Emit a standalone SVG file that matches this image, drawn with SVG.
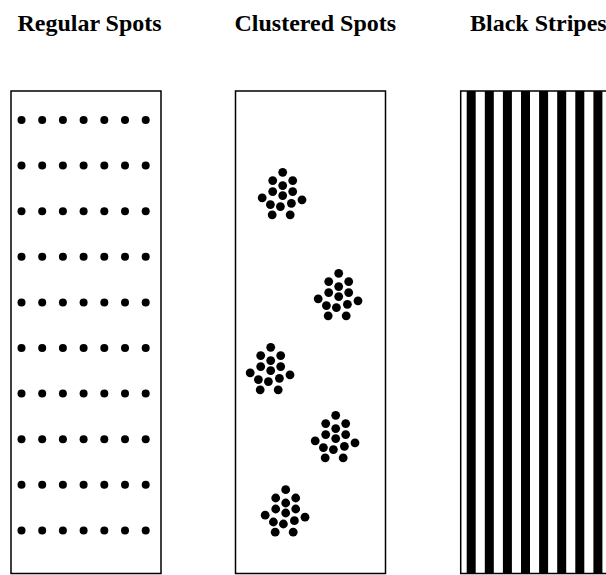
<svg xmlns="http://www.w3.org/2000/svg" xmlns:xlink="http://www.w3.org/1999/xlink" width="606" height="575" viewBox="0 0 606 575">
<style>
.title{font-family:"Liberation Serif","Times New Roman",serif;font-weight:bold;font-size:24px;fill:#000}
.box{fill:#fff;stroke:#000;stroke-width:1.5}
.dot{fill:#000}
.stripe{fill:#000}
</style>
<defs>
<g id="row">
<circle class="dot" cx="21.5" cy="0" r="4"/>
<circle class="dot" cx="42.2" cy="0" r="4"/>
<circle class="dot" cx="62.9" cy="0" r="4"/>
<circle class="dot" cx="83.6" cy="0" r="4"/>
<circle class="dot" cx="104.3" cy="0" r="4"/>
<circle class="dot" cx="125" cy="0" r="4"/>
<circle class="dot" cx="145.7" cy="0" r="4"/>
</g>
<g id="cluster">
<circle class="dot" cx="0" cy="0" r="4.4"/>
<circle class="dot" cx="-10" cy="8.3" r="4.4"/>
<circle class="dot" cx="10" cy="8.3" r="4.4"/>
<circle class="dot" cx="0" cy="13.3" r="4.4"/>
<circle class="dot" cx="-10" cy="19.3" r="4.4"/>
<circle class="dot" cx="10" cy="19.3" r="4.4"/>
<circle class="dot" cx="0" cy="23.3" r="4.4"/>
<circle class="dot" cx="-20.5" cy="25.5" r="4.4"/>
<circle class="dot" cx="19.3" cy="27.5" r="4.4"/>
<circle class="dot" cx="-12.3" cy="32.3" r="4.4"/>
<circle class="dot" cx="-2.3" cy="34.3" r="4.4"/>
<circle class="dot" cx="8.7" cy="31" r="4.4"/>
<circle class="dot" cx="-10.5" cy="42.5" r="4.4"/>
<circle class="dot" cx="7.5" cy="42.5" r="4.4"/>
</g>
</defs>

<g id="regular-spots">
<text class="title" x="17.4" y="31">Regular Spots</text>
<rect class="box" x="11" y="91" width="150" height="482.5"/>
<use xlink:href="#row" y="120"/>
<use xlink:href="#row" y="165.6"/>
<use xlink:href="#row" y="211.2"/>
<use xlink:href="#row" y="256.8"/>
<use xlink:href="#row" y="302.4"/>
<use xlink:href="#row" y="348"/>
<use xlink:href="#row" y="393.6"/>
<use xlink:href="#row" y="439.2"/>
<use xlink:href="#row" y="484.8"/>
<use xlink:href="#row" y="530.4"/>
</g>

<g id="clustered-spots">
<text class="title" x="234.5" y="31">Clustered Spots</text>
<rect class="box" x="235.5" y="91" width="150" height="482.5"/>
<use xlink:href="#cluster" x="282.7" y="172.3"/>
<use xlink:href="#cluster" x="338.7" y="273.3"/>
<use xlink:href="#cluster" x="270.7" y="347.3"/>
<use xlink:href="#cluster" x="335.7" y="415.3"/>
<use xlink:href="#cluster" x="285.7" y="489.7"/>
</g>

<g id="black-stripes">
<text class="title" x="470" y="31">Black Stripes</text>
<rect class="box" x="460.7" y="91" width="150" height="482.5"/>
<rect class="stripe" x="466.7" y="91" width="9" height="482.5"/>
<rect class="stripe" x="484.8" y="91" width="9" height="482.5"/>
<rect class="stripe" x="502.9" y="91" width="9" height="482.5"/>
<rect class="stripe" x="521" y="91" width="9" height="482.5"/>
<rect class="stripe" x="539.1" y="91" width="9" height="482.5"/>
<rect class="stripe" x="557.2" y="91" width="9" height="482.5"/>
<rect class="stripe" x="575.3" y="91" width="9" height="482.5"/>
<rect class="stripe" x="593.4" y="91" width="9" height="482.5"/>
</g>

<g id="connectors"/>
</svg>
